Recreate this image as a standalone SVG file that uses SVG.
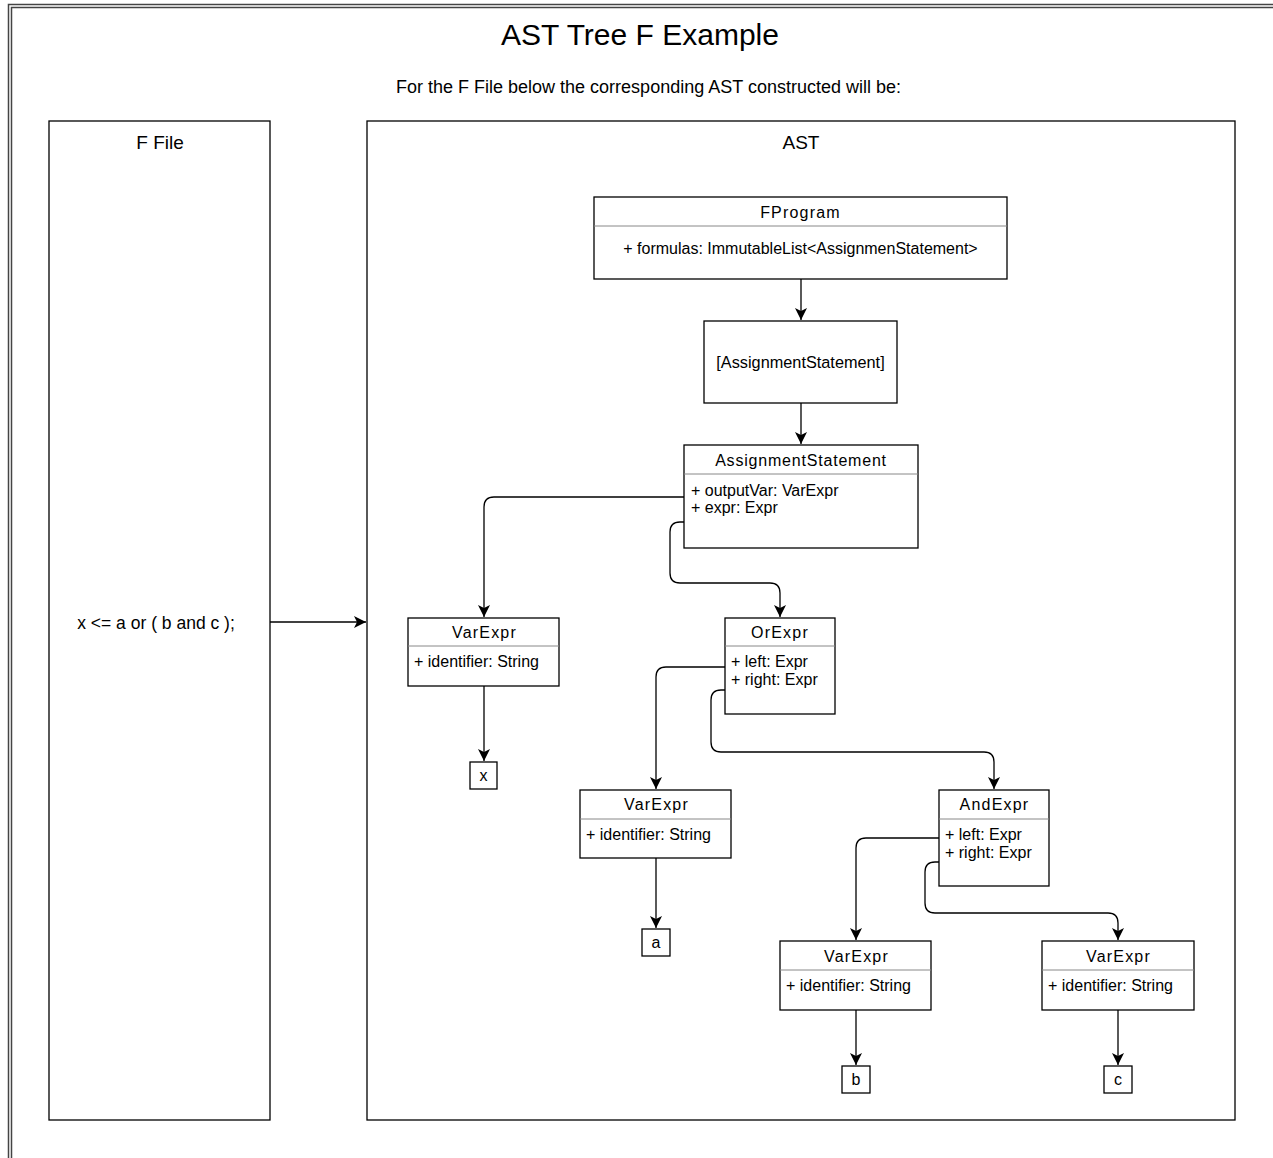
<svg xmlns="http://www.w3.org/2000/svg" width="1273" height="1158" viewBox="0 0 1273 1158">
<style>
text{font-family:"Liberation Sans",Arial,sans-serif;fill:#000;}
.t{font-size:16px;}
.c{text-anchor:middle;}
.h{font-size:16px;letter-spacing:1.2px;text-anchor:middle;}
.lbl{font-size:19px;text-anchor:middle;}
.box{fill:#fff;stroke:#000;stroke-width:1.3;}
.sep{stroke:#888;stroke-width:1;}
.edge{fill:none;stroke:#000;stroke-width:1.3;marker-end:url(#arr);}
.frame{fill:none;stroke:#444;stroke-width:1.5;}
</style>
<defs>
<marker id="arr" markerUnits="userSpaceOnUse" markerWidth="12" markerHeight="12" refX="10" refY="5" orient="auto" viewBox="0 0 10 10">
<path d="M0,0 L10,5 L0,10 L2.5,5 Z" fill="#000"/>
</marker>
</defs>
<rect width="1273" height="1158" fill="#fff"/>
<g id="frame">
<rect class="frame" x="8.5" y="4.5" width="1300" height="1200"/>
<rect class="frame" x="11.5" y="7.5" width="1300" height="1200"/>
</g>
<g id="title">
<text x="640" y="45" style="font-size:30px" class="c">AST Tree F Example</text>
<text x="648.5" y="93" style="font-size:18px" class="c">For the F File below the corresponding AST constructed will be:</text>
</g>
<g id="ffile">
<rect class="box" x="49" y="121" width="221" height="999"/>
<text x="160" y="149" class="lbl">F File</text>
<text x="156" y="629" style="font-size:17.5px" class="c">x &lt;= a or ( b and c );</text>
</g>
<g id="ast">
<rect class="box" x="367" y="121" width="868" height="999"/>
<text x="801" y="149" class="lbl">AST</text>
</g>
<g id="fprogram">
<rect class="box" x="594" y="197" width="413" height="82"/>
<line class="sep" x1="594" y1="226" x2="1007" y2="226"/>
<text x="800.5" y="218" class="h">FProgram</text>
<text x="800.5" y="254" class="t c">+ formulas: ImmutableList&lt;AssignmenStatement&gt;</text>
</g>
<g id="aslist">
<rect class="box" x="704" y="321" width="193" height="82"/>
<text x="800.5" y="368" style="font-size:16.3px" class="c">[AssignmentStatement]</text>
</g>
<g id="assignment">
<rect class="box" x="684" y="445" width="234" height="103"/>
<line class="sep" x1="684" y1="474" x2="918" y2="474"/>
<text x="801" y="466" class="h" style="letter-spacing:0.8px">AssignmentStatement</text>
<text x="691" y="496" class="t">+ outputVar: VarExpr</text>
<text x="691" y="513" class="t">+ expr: Expr</text>
</g>
<g id="varexpr-x">
<rect class="box" x="408" y="618" width="151" height="68"/>
<line class="sep" x1="408" y1="646" x2="559" y2="646"/>
<text x="484.5" y="638" class="h">VarExpr</text>
<text x="414" y="667" class="t">+ identifier: String</text>
</g>
<g id="orexpr">
<rect class="box" x="725" y="618" width="110" height="96"/>
<line class="sep" x1="725" y1="646" x2="835" y2="646"/>
<text x="780" y="638" class="h">OrExpr</text>
<text x="731" y="667" class="t">+ left: Expr</text>
<text x="731" y="685" class="t">+ right: Expr</text>
</g>
<g id="varexpr-a">
<rect class="box" x="580" y="790" width="151" height="68"/>
<line class="sep" x1="580" y1="819" x2="731" y2="819"/>
<text x="656.5" y="810" class="h">VarExpr</text>
<text x="586" y="840" class="t">+ identifier: String</text>
</g>
<g id="andexpr">
<rect class="box" x="939" y="790" width="110" height="96"/>
<line class="sep" x1="939" y1="819" x2="1049" y2="819"/>
<text x="994.5" y="810" class="h">AndExpr</text>
<text x="945" y="840" class="t">+ left: Expr</text>
<text x="945" y="858" class="t">+ right: Expr</text>
</g>
<g id="varexpr-b">
<rect class="box" x="780" y="941" width="151" height="69"/>
<line class="sep" x1="780" y1="970" x2="931" y2="970"/>
<text x="856.5" y="962" class="h">VarExpr</text>
<text x="786" y="991" class="t">+ identifier: String</text>
</g>
<g id="varexpr-c">
<rect class="box" x="1042" y="941" width="152" height="69"/>
<line class="sep" x1="1042" y1="970" x2="1194" y2="970"/>
<text x="1118.5" y="962" class="h">VarExpr</text>
<text x="1048" y="991" class="t">+ identifier: String</text>
</g>
<g id="leaf-x">
<rect class="box" x="470" y="762" width="27" height="27"/>
<text x="483.5" y="781" class="t c">x</text>
</g>
<g id="leaf-a">
<rect class="box" x="642" y="929" width="28" height="27"/>
<text x="656" y="948" class="t c">a</text>
</g>
<g id="leaf-b">
<rect class="box" x="842" y="1066" width="28" height="27"/>
<text x="856" y="1085" class="t c">b</text>
</g>
<g id="leaf-c">
<rect class="box" x="1104" y="1066" width="28" height="27"/>
<text x="1118" y="1085" class="t c">c</text>
</g>
<g id="connectors">
<path class="edge" d="M270,622 H366"/>
<path class="edge" d="M801,279 V320"/>
<path class="edge" d="M801,403 V444"/>
<path class="edge" d="M684,497 H494 Q484,497 484,507 V617"/>
<path class="edge" d="M684,522 H680 Q670,522 670,532 V573 Q670,583 680,583 H770 Q780,583 780,593 V617"/>
<path class="edge" d="M484,686 V761"/>
<path class="edge" d="M725,667 H666 Q656,667 656,677 V789"/>
<path class="edge" d="M725,690 H721 Q711,690 711,700 V742 Q711,752 721,752 H984 Q994,752 994,762 V789"/>
<path class="edge" d="M656,858 V928"/>
<path class="edge" d="M939,838 H866 Q856,838 856,848 V940"/>
<path class="edge" d="M939,862 H935 Q925,862 925,872 V903 Q925,913 935,913 H1108 Q1118,913 1118,923 V940"/>
<path class="edge" d="M856,1010 V1065"/>
<path class="edge" d="M1118,1010 V1065"/>
</g>
</svg>
